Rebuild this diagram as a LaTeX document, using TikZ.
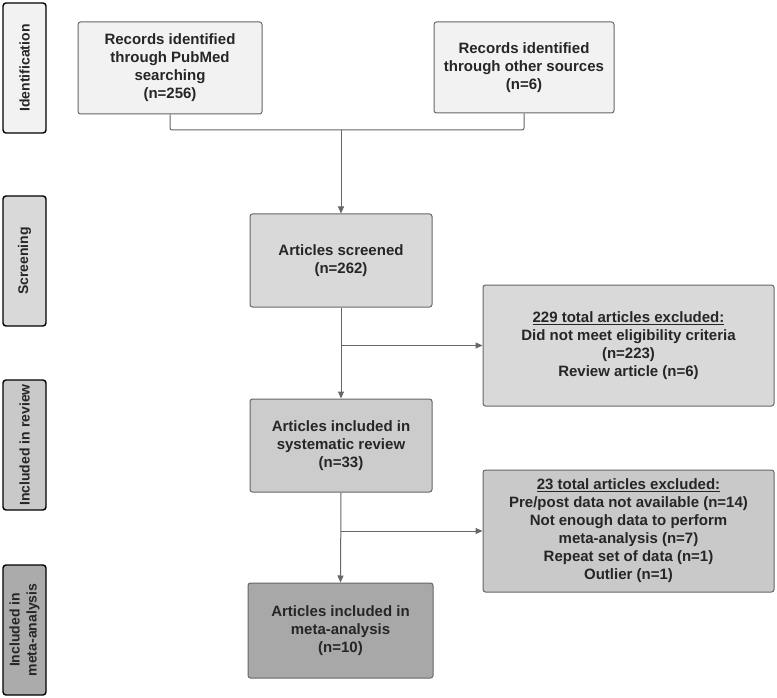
\documentclass[tikz,border=0pt]{standalone}
\usepackage{fontspec}
\setmainfont{Liberation Sans}
\usetikzlibrary{arrows.meta}
\definecolor{linegray}{HTML}{666666}
\definecolor{txt}{HTML}{262626}
\begin{document}
\begin{tikzpicture}[x=1pt,y=-1pt,
  box/.style={draw=linegray, line width=1pt, rounded corners=2.5pt, align=center,
    font=\bfseries\fontsize{15}{18}\selectfont, text=txt, inner sep=2pt},
  side/.style={draw=black, line width=1.4pt, rounded corners=3pt, rotate=90,
    minimum width=130pt, minimum height=43pt, align=center, inner sep=1pt,
    font=\bfseries\fontsize{14}{17}\selectfont, text=txt},
  conn/.style={draw=linegray, line width=1pt},
  arr/.style={conn, -{Triangle[length=7pt,width=6pt]}}]
\useasboundingbox (0,0) rectangle (777,698);
% side labels
\node[side, fill=black!5] (sid) at (24.5,68) {Identification};
\node[side, fill=black!15] (sscr) at (24.5,261) {Screening};
\node[side, fill=black!21] (srev) at (24.5,445) {Included in review};
\node[side, fill=black!33] (smeta) at (24.5,630) {Included in\\meta-analysis};
% boxes
\node[box, fill=black!5, minimum width=184pt, minimum height=92pt] (pub) at (170,68)
  {Records identified\\through PubMed\\searching\\(n=256)};
\node[box, fill=black!5, minimum width=180pt, minimum height=91pt] (oth) at (524,67.5)
  {Records identified\\through other sources\\(n=6)};
\node[box, fill=black!15, minimum width=182pt, minimum height=93pt] (scr) at (341,260.5)
  {Articles screened\\(n=262)};
\node[box, fill=black!15, minimum width=291pt, minimum height=121pt] (exa) at (628.5,345.5)
  {\underline{229 total articles excluded:}\\Did not meet eligibility criteria\\(n=223)\\Review article (n=6)};
\node[box, fill=black!20, minimum width=182pt, minimum height=93pt] (rev) at (341,445.5)
  {Articles included in\\systematic review\\(n=33)};
\node[box, fill=black!21, minimum width=291pt, minimum height=122pt] (exb) at (628.5,531)
  {\underline{23 total articles excluded:}\\Pre/post data not available (n=14)\\Not enough data to perform\\meta-analysis (n=7)\\Repeat set of data (n=1)\\Outlier (n=1)};
\node[box, fill=black!34, minimum width=185pt, minimum height=95pt] (meta) at (340.5,630.5)
  {Articles included in\\meta-analysis\\(n=10)};
% connectors
\coordinate (j1) at (341,130);
\coordinate (j2) at (341,345.5);
\coordinate (j3) at (341,531);
\draw[conn, rounded corners=2pt] (pub.south) |- (j1) -| (oth.south);
\draw[arr] (j1) -- (scr.north);
\draw[arr] (scr.south) -- (rev.north);
\draw[arr] (j2) -- (exa.west);
\draw[arr] (rev.south) -- (meta.north);
\draw[arr] (j3) -- (exb.west);
\end{tikzpicture}
\end{document}
